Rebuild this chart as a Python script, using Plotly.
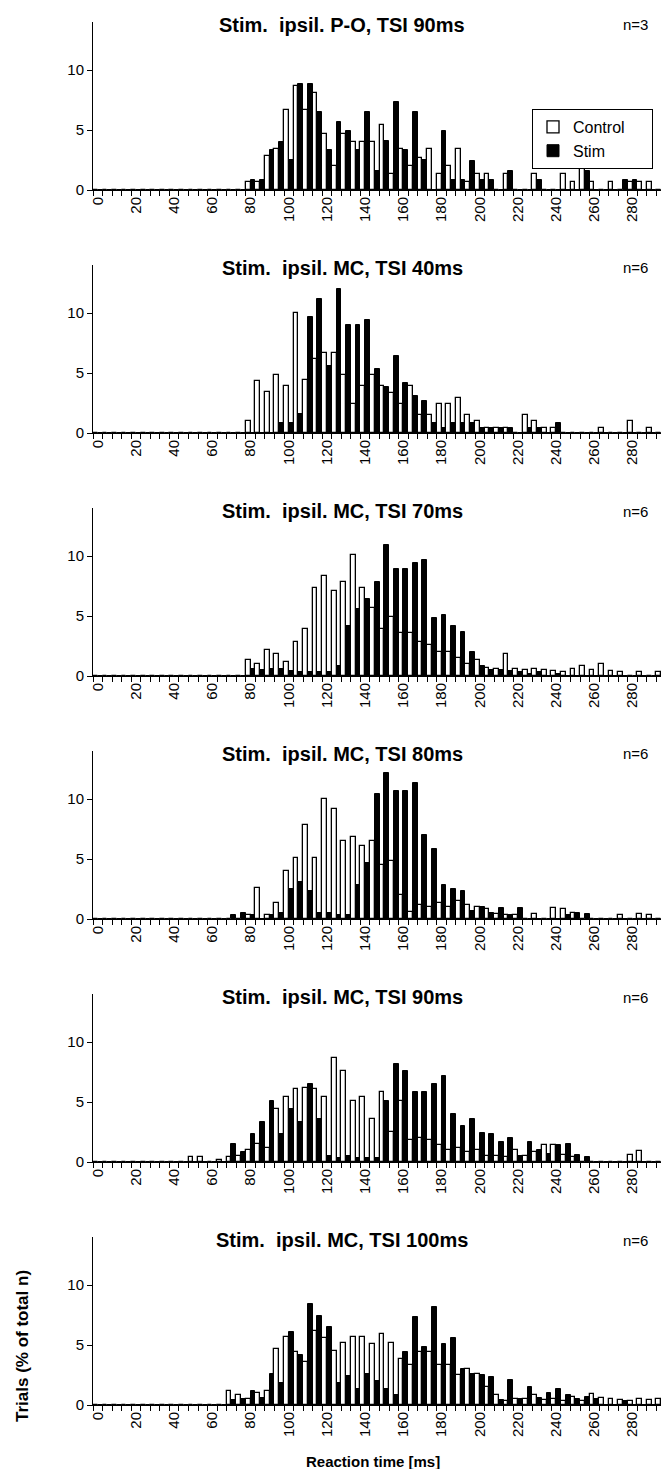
import plotly.graph_objects as go

bins = list(range(0, 300, 5))
tick_vals = list(range(0, 300, 20))
tick_text = [str(v) for v in tick_vals]

titles = ["Stim.  ipsil. P-O, TSI 90ms", "Stim.  ipsil. MC, TSI 40ms", "Stim.  ipsil. MC, TSI 70ms",
          "Stim.  ipsil. MC, TSI 80ms", "Stim.  ipsil. MC, TSI 90ms", "Stim.  ipsil. MC, TSI 100ms"]
n_labels = ["n=3", "n=6", "n=6", "n=6", "n=6", "n=6"]

ctrl_po90 = [0]*16 + [0.7, 0.7, 2.8, 3.4, 6.7, 8.7, 6.7, 8.1, 4.7, 2.0, 4.7, 4.0, 4.0, 4.0, 5.4, 1.3,
                      3.4, 2.0, 2.7, 3.4, 1.3, 2.0, 3.4, 0.7, 1.3, 1.3, 0, 1.3, 0, 0, 1.3, 0, 0, 1.3,
                      0.7, 2.0, 0.7, 0, 0.7, 0, 0.7, 0.7, 0.7, 0]
stim_po90 = [0]*16 + [0.8, 0.8, 3.3, 4.0, 2.5, 8.8, 8.8, 6.5, 3.3, 5.7, 4.9, 3.3, 6.5, 1.6, 4.1, 7.3,
                      3.3, 6.5, 2.5, 0, 4.9, 0.8, 0.8, 2.4, 0.8, 0.8, 0, 1.6, 0, 0, 0.8, 0, 0, 0,
                      0, 1.6, 0, 0, 0, 0.8, 0.8, 0, 0, 0]

ctrl_mc40 = [0]*16 + [1.0, 4.3, 3.4, 4.8, 3.9, 10.0, 4.4, 6.2, 6.7, 6.7, 4.8, 2.4, 3.9, 4.8, 3.9, 3.3,
                      2.4, 3.9, 1.5, 1.5, 2.4, 2.4, 2.9, 1.5, 1.0, 0.45, 0.45, 0.45, 0, 1.5, 1.0, 0.45,
                      0.45, 0, 0, 0, 0, 0.45, 0, 0, 1.0, 0, 0.45, 0]
stim_mc40 = [0]*16 + [0, 0, 0, 0.8, 0.8, 1.6, 9.7, 11.2, 5.6, 12.0, 9.0, 9.0, 9.4, 5.3, 3.8, 6.4,
                      4.2, 3.1, 2.7, 0.8, 0.4, 0.8, 0.8, 0.8, 0.4, 0.4, 0.4, 0.4, 0, 0.4, 0.4, 0,
                      0.8, 0, 0, 0, 0, 0, 0, 0, 0, 0, 0, 0]

ctrl_mc70 = [0]*16 + [1.3, 1.0, 2.2, 1.8, 1.2, 2.8, 3.9, 7.3, 8.3, 7.1, 7.8, 10.1, 7.3, 5.7, 3.9, 4.9,
                      3.6, 3.6, 2.8, 2.6, 2.0, 2.0, 1.5, 1.0, 1.3, 0.7, 0.6, 1.8, 0.6, 0.5, 0.6, 0.5,
                      0.4, 0.3, 0.6, 0.8, 0.5, 1.0, 0.4, 0.3, 0, 0.3, 0, 0.3]
stim_mc70 = [0]*16 + [0.6, 0.5, 0.6, 0.6, 0.4, 0.3, 0.3, 0.3, 0.3, 0.8, 4.2, 5.6, 6.4, 7.8, 10.9, 8.9,
                      8.9, 9.4, 9.7, 4.8, 5.1, 4.2, 3.7, 2.0, 0.8, 0.5, 0.5, 0.4, 0.3, 0.2, 0.3, 0,
                      0.2, 0, 0, 0, 0, 0, 0, 0, 0, 0, 0, 0]

ctrl_mc80 = [0]*14 + [0, 0, 0.3, 2.6, 0.3, 1.3, 4.0, 5.1, 7.8, 5.1, 10.0, 9.2, 6.5, 6.8, 6.1, 6.5,
                      4.5, 4.8, 2.0, 0.6, 1.2, 1.0, 1.3, 1.0, 1.5, 1.2, 1.0, 0.8, 0.4, 0.3, 0.3, 0,
                      0.4, 0, 0.9, 0.8, 0.5, 0, 0, 0, 0, 0.3, 0, 0.4, 0.3, 0]
stim_mc80 = [0]*14 + [0.3, 0.5, 0.3, 0, 0.3, 0.5, 2.5, 3.1, 2.3, 0.5, 0.5, 0.3, 0.3, 2.8, 4.7, 10.4,
                      12.2, 10.7, 10.7, 11.3, 7.0, 5.8, 2.8, 2.5, 2.3, 0.7, 1.0, 0.5, 0.9, 0.3, 0.9, 0,
                      0, 0, 0, 0.3, 0.5, 0.4, 0, 0, 0, 0, 0, 0, 0, 0]

ctrl_mc90 = [0]*10 + [0.4, 0.4, 0, 0.2, 0.4, 0.5, 1.0, 1.5, 1.2, 4.4, 5.4, 6.1, 6.2, 6.1, 5.4, 8.7,
                      7.6, 5.1, 5.4, 3.6, 5.8, 2.5, 5.1, 1.8, 2.0, 1.8, 1.4, 1.0, 1.2, 0.8, 1.0, 0.5,
                      0.5, 0.4, 1.0, 0.5, 0.8, 1.4, 1.4, 0.6, 0.4, 0, 0, 0, 0, 0, 0.6, 0.9, 0, 0]
stim_mc90 = [0]*10 + [0, 0, 0, 0, 1.5, 0.8, 2.3, 3.3, 5.1, 2.3, 4.4, 3.3, 6.5, 3.6, 0.5, 0.3,
                      0.5, 0.3, 0.3, 0.3, 5.1, 8.2, 7.6, 5.8, 5.8, 6.5, 7.2, 4.0, 3.0, 3.6, 2.4, 2.3,
                      1.7, 2.0, 0.5, 1.7, 1.0, 0.7, 1.4, 1.5, 0.6, 0.4, 0, 0, 0, 0, 0, 0, 0, 0]

ctrl_mc100 = [0]*14 + [1.2, 0.8, 0.5, 1.0, 1.2, 4.7, 5.7, 4.4, 3.6, 6.2, 5.6, 4.5, 5.2, 5.7, 5.7, 5.1,
                       5.9, 5.2, 3.8, 3.3, 4.4, 4.4, 3.3, 3.3, 2.5, 3.0, 2.6, 1.5, 0.8, 0.3, 0.5, 0.5,
                       0.8, 0.4, 0.5, 0.3, 0.7, 0.3, 0.9, 0.6, 0.5, 0.4, 0.3, 0.5, 0.4, 0.5]
stim_mc100 = [0]*14 + [0.4, 0.5, 1.2, 0.6, 2.6, 1.8, 6.1, 4.2, 8.4, 7.4, 6.5, 1.8, 2.4, 1.3, 2.6, 2.0,
                       1.3, 0.8, 4.4, 7.3, 4.8, 8.2, 5.1, 5.6, 3.0, 2.6, 2.5, 2.3, 0.4, 2.1, 0.5, 1.5,
                       0.6, 1.0, 1.3, 0.8, 0.5, 0.7, 0.5, 0, 0, 0.3, 0, 0, 0, 0]

control_sets = [ctrl_po90, ctrl_mc40, ctrl_mc70, ctrl_mc80, ctrl_mc90, ctrl_mc100]
stim_sets = [stim_po90, stim_mc40, stim_mc70, stim_mc80, stim_mc90, stim_mc100]

W, H = 669, 1469
ML, MR, MT, MB = 85, 11, 14, 72
PW = W - ML - MR
PH = H - MT - MB
BOTTOM = H - MB
FONT = "Liberation Sans, Arial, sans-serif"

fig = go.Figure()
annotations = []
for k in range(6):
    sfx = "" if k == 0 else str(k + 1)
    baseline = 182 + 243 * k
    top = baseline - 168
    y0 = (BOTTOM - baseline) / PH
    y1 = (BOTTOM - top) / PH
    fig.add_trace(go.Bar(x=bins, y=control_sets[k], name="Control\u00a0\u00a0\u00a0\u00a0\u00a0",
                         xaxis="x" + sfx, yaxis="y" + sfx,
                         marker=dict(color="white", line=dict(color="black", width=1.3)),
                         offsetgroup="c", legendgroup="c", showlegend=(k == 0)))
    fig.add_trace(go.Bar(x=bins, y=stim_sets[k], name="Stim", xaxis="x" + sfx, yaxis="y" + sfx,
                         marker=dict(color="black", line=dict(color="black", width=1)),
                         offsetgroup="s", legendgroup="s", showlegend=(k == 0)))
    fig.layout["xaxis" + sfx] = dict(
        domain=[0, 1], anchor="y" + sfx, range=[-2.5, 297.5],
        tickmode="array", tickvals=tick_vals, ticktext=tick_text, tickangle=-90,
        ticks="outside", ticklen=0, showline=True, linecolor="black", linewidth=1,
        showgrid=False, zeroline=False,
        tickfont=dict(family=FONT, size=15, color="black"),
        minor=dict(tickmode="linear", tick0=-2.5, dtick=5, ticks="outside", ticklen=5,
                   tickcolor="black", tickwidth=1, showgrid=False),
    )
    fig.layout["yaxis" + sfx] = dict(
        domain=[y0, y1], anchor="x" + sfx, range=[0, 14],
        tickmode="array", tickvals=[0, 5, 10], ticks="outside", ticklen=5, tickcolor="black",
        showline=True, linecolor="black", linewidth=1, showgrid=False, zeroline=False,
        tickfont=dict(family=FONT, size=15, color="black"),
    )
    ty = (BOTTOM - (top + 3)) / PH
    annotations.append(dict(text="<b>" + titles[k] + "</b>", xref="paper", yref="paper",
                            x=(334 - ML) / PW, y=ty, showarrow=False, xanchor="center", yanchor="middle",
                            font=dict(family=FONT, size=20, color="black")))
    annotations.append(dict(text=n_labels[k], xref="paper", yref="paper",
                            x=(627 - ML) / PW, y=ty, showarrow=False, xanchor="center", yanchor="middle",
                            font=dict(family=FONT, size=15, color="black")))

annotations.append(dict(text="<b>Reaction time [ms]</b>", xref="paper", yref="paper",
                        x=(365 - ML) / PW, y=(BOTTOM - 1453) / PH, showarrow=False, xanchor="center",
                        yanchor="middle", font=dict(family=FONT, size=15, color="black")))
annotations.append(dict(text="<b>Trials (% of total n)</b>", xref="paper", yref="paper",
                        x=(14 - ML) / PW, y=(BOTTOM - 1338) / PH, showarrow=False,
                        textangle=-90, xanchor="center", yanchor="middle",
                        font=dict(family=FONT, size=17, color="black")))

fig.update_layout(
    width=W, height=H, margin=dict(l=ML, r=MR, t=MT, b=MB),
    plot_bgcolor="white", paper_bgcolor="white",
    barmode="group", bargap=0, bargroupgap=0,
    annotations=annotations,
    legend=dict(x=(524 - ML) / PW, y=(BOTTOM - 101) / PH, xanchor="left", yanchor="top",
                bordercolor="black", borderwidth=1, bgcolor="white",
                font=dict(family=FONT, size=16, color="black"), itemwidth=30,
                tracegroupgap=0),
)

fig.write_html("out.html")
